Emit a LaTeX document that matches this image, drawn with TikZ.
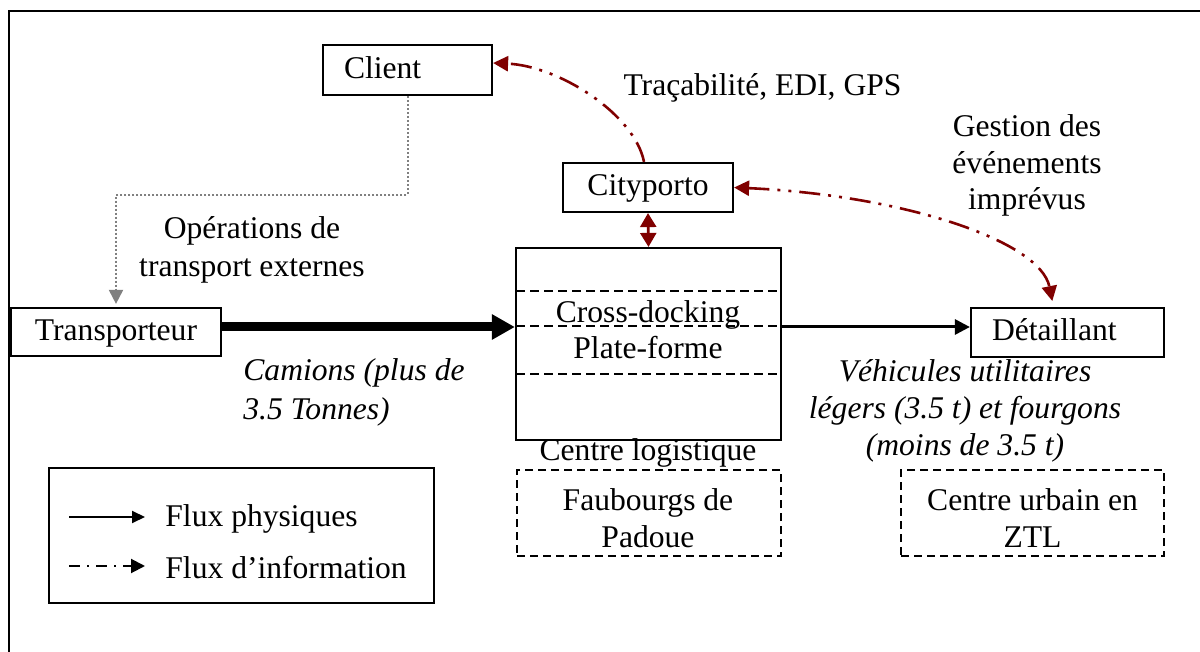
\documentclass[tikz,border=0pt]{standalone}
\usepackage{fontspec}
\setmainfont{Liberation Serif}
\usetikzlibrary{arrows.meta,calc}
\definecolor{infored}{RGB}{128,0,0}
\definecolor{opgrey}{RGB}{128,128,128}
\begin{document}
\begin{tikzpicture}[x=0.5pt,y=-0.5pt,
  every node/.style={font=\fontsize{15.8}{18.5}\selectfont, inner sep=0pt},
  box/.style={draw, line width=1.1pt, inner sep=0pt, text height=11pt, text depth=2.5pt},
  zone/.style={draw, line width=1pt, dash pattern=on 4pt off 2.5pt},
  lbl/.style={anchor=base, align=center},
  infoline/.style={draw=infored, line width=1.3pt, dash pattern=on 10.5pt off 4pt on 1.5pt off 4pt on 1.5pt off 4pt},
  infotip/.style={-{Triangle[length=7.5pt,width=7.5pt,infored]}},
]
\useasboundingbox (0,0) rectangle (1200,652);
% frame
\draw[line width=1.3pt] (9,652) -- (9,11) -- (1200,11);

% boxes
\node[box, minimum width=84.5pt, minimum height=25pt, text width=63.5pt, inner xsep=10.5pt, align=left] (client) at (407.5,70) {Client};
\node[box, minimum width=85pt, minimum height=24.5pt] (city) at (648,187.5) {Cityporto};
\node[box, minimum width=105pt, minimum height=24pt] (transp) at (116,332) {Transporteur};
\node[box, minimum width=96.5pt, minimum height=24.5pt, text width=75.5pt, inner xsep=10.5pt, align=left] (detail) at (1067.5,332.5) {Détaillant};
\node[box, minimum width=132.5pt, minimum height=96pt] (centre) at (648.5,344) {};
\node[zone, minimum width=132pt, minimum height=43pt] (faub) at (649,513) {};
\node[zone, minimum width=131.5pt, minimum height=43pt] (urb) at (1032.5,513) {};
\node[box, minimum width=192.5pt, minimum height=67.5pt] (legend) at (241.5,535.5) {};

% dashed lines inside the logistics centre
\draw[line width=1pt, dash pattern=on 4.5pt off 2.5pt] (516,291) -- (781,291);
\draw[line width=1pt, dash pattern=on 4.5pt off 2.5pt] (516,326) -- (781,326);
\draw[line width=1pt, dash pattern=on 4.5pt off 2.5pt] (516,374) -- (781,374);

% labels (base anchor = baseline of the last line)
\node[lbl] at (648,323) {Cross-docking};
\node[lbl] at (648,358) {Plate-forme};
\node[lbl] at (648,460) {Centre logistique};
\node[lbl, font=\fontsize{15.8}{18.5}\selectfont] at (648,547) {Faubourgs de\\Padoue};
\node[lbl, font=\fontsize{15.8}{18.5}\selectfont] at (1032.5,547) {Centre urbain en\\ZTL};
\node[anchor=base] at (762.5,96) {Traçabilité, EDI, GPS};
\node[lbl, font=\fontsize{15.8}{18.25}\selectfont] at (1027,210) {Gestion des\\événements\\imprévus};
\node[lbl, font=\fontsize{15.8}{19}\selectfont] at (252,277) {Opérations de\\transport externes};
\node[anchor=base west, align=left, font=\fontsize{15.8}{19.5}\selectfont\itshape] at (243,419) {Camions (plus de\\3.5 Tonnes)};
\node[lbl, font=\fontsize{15.8}{18.5}\selectfont\itshape] at (965,455) {Véhicules utilitaires\\légers (3.5 t) et fourgons\\(moins de 3.5 t)};
\node[anchor=base west] at (165,526) {Flux physiques};
\node[anchor=base west] at (165,578) {Flux d’information};

% coordinates
\coordinate (flowy) at (0,327);
\coordinate (turn) at (0,195);
\coordinate (l1s) at (69,517);
\coordinate (l1e) at (145,517);
\coordinate (l2s) at (69,566);
\coordinate (l2e) at (145,566);
\coordinate (cityup) at ([xshift=-2pt]city.north);
\coordinate (clienttip) at ([yshift=3.5pt]client.east);
\coordinate (detailtip) at ([xshift=-7pt]detail.north);

% physical flows
\draw[line width=4.5pt, -{Triangle[length=11.5pt,width=12pt]}] (transp.east |- flowy) -- (centre.west |- flowy);
\draw[line width=1.5pt, -{Triangle[length=7.5pt,width=7.5pt]}] (centre.east |- flowy) -- (detail.west |- flowy);

% external transport operations (grey dotted)
\draw[opgrey, line width=1pt, dash pattern=on 1pt off 1pt, -{Triangle[length=7pt,width=7pt,opgrey]}, shorten >=1.5pt]
  (client.south) -- (client.south |- turn) -- (transp.north |- turn) -- (transp.north);

% information flows
\draw[infoline, infotip] (cityup) .. controls (635,115) and (560,66) .. (clienttip);
\draw[infoline, {Triangle[length=7.5pt,width=7.5pt,infored]}-{Triangle[length=7.5pt,width=7.5pt,infored]}, shorten >=3pt]
  (city.east) .. controls (900,195) and (1040,240) .. (detailtip);
\draw[infored, line width=1.3pt, {Triangle[length=7pt,width=8pt]}-{Triangle[length=7pt,width=8pt]}] (city.south) -- (centre.north);

% legend arrows
\draw[line width=1pt, -{Triangle[length=6.5pt,width=6pt]}] (l1s) -- (l1e);
\draw[line width=1pt, dash pattern=on 5.5pt off 3.5pt on 1pt off 3.5pt, -{Triangle[length=7pt,width=7pt]}] (l2s) -- (l2e);
\end{tikzpicture}
\end{document}
